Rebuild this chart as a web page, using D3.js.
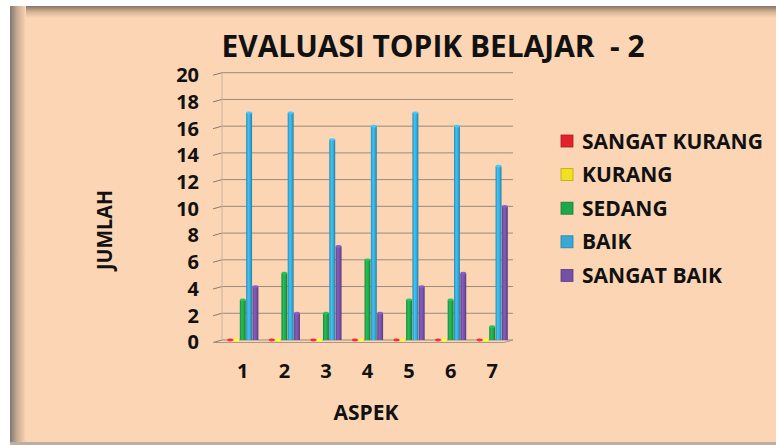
<!DOCTYPE html>
<html>
<head>
<meta charset="utf-8">
<script src="https://cdn.jsdelivr.net/npm/d3@7"></script>
<style>
  html, body { margin: 0; padding: 0; background: #fff; }
  svg { display: block; }
  text { font-family: "Liberation Sans Narrow", "Open Sans", sans-serif; font-weight: bold; fill: #111; }
</style>
</head>
<body>
<svg id="chart" width="776" height="445"></svg>
<script>
const aspek = ['1', '2', '3', '4', '5', '6', '7'];
const seriesNames = ['SANGAT KURANG', 'KURANG', 'SEDANG', 'BAIK', 'SANGAT BAIK'];
const sangatKurang = [0, 0, 0, 0, 0, 0, 0];
const kurang = [0, 0, 0, 0, 0, 0, 0];
const sedang = [3, 5, 2, 6, 3, 3, 1];
const baik = [17, 17, 15, 16, 17, 16, 13];
const sangatBaik = [4, 2, 7, 2, 4, 5, 10];
const yTicks = [0, 2, 4, 6, 8, 10, 12, 14, 16, 18, 20];
const colors = ['#e3232b', '#f2e21e', '#1ea64a', '#36a9d6', '#7450a6'];

const seriesValues = [sangatKurang, kurang, sedang, baik, sangatBaik];

const svg = d3.select('#chart');
const defs = svg.append('defs');

// panel background with shaded top / left edges
const peach = '#fcd5b4';
const lg = defs.append('linearGradient').attr('id', 'leftShade').attr('x1', 0).attr('x2', 1).attr('y1', 0).attr('y2', 0);
lg.append('stop').attr('offset', '0%').attr('stop-color', '#7d7772');
lg.append('stop').attr('offset', '45%').attr('stop-color', '#c9ab92');
lg.append('stop').attr('offset', '100%').attr('stop-color', peach);
const tg = defs.append('linearGradient').attr('id', 'topShade').attr('x1', 0).attr('x2', 0).attr('y1', 0).attr('y2', 1);
tg.append('stop').attr('offset', '0%').attr('stop-color', '#857565');
tg.append('stop').attr('offset', '50%').attr('stop-color', '#d6b597');
tg.append('stop').attr('offset', '100%').attr('stop-color', peach);

svg.append('rect').attr('x', 10).attr('y', 6).attr('width', 766).attr('height', 437).attr('fill', peach);
svg.append('rect').attr('x', 10).attr('y', 6).attr('width', 766).attr('height', 12).attr('fill', 'url(#topShade)');
svg.append('rect').attr('x', 10).attr('y', 6).attr('width', 16).attr('height', 437).attr('fill', 'url(#leftShade)');
svg.append('rect').attr('x', 10).attr('y', 442).attr('width', 766).attr('height', 3).attr('fill', '#b9afa6');

// cylinder gradients per series
colors.forEach((c, i) => {
  const g = defs.append('linearGradient').attr('id', 'cyl' + i).attr('x1', 0).attr('x2', 1).attr('y1', 0).attr('y2', 0);
  g.append('stop').attr('offset', '0%').attr('stop-color', d3.color(c).darker(0.6));
  g.append('stop').attr('offset', '35%').attr('stop-color', d3.color(c).brighter(0.4));
  g.append('stop').attr('offset', '70%').attr('stop-color', c);
  g.append('stop').attr('offset', '100%').attr('stop-color', d3.color(c).darker(0.9));
});

const plotLeft = 222, plotRight = 513, plotTop = 72.7, plotBottom = 340;

const y = d3.scaleLinear().domain([0, 20]).range([plotBottom, plotTop]);
const x0 = d3.scaleBand().domain(aspek).range([plotLeft, plotRight]).paddingInner(0.24).paddingOuter(0.12);
const x1 = d3.scaleBand().domain(d3.range(seriesNames.length)).range([0, x0.bandwidth()]);

// gridlines and slanted ticks
const grid = svg.append('g');
grid.selectAll('line.g').data(yTicks).enter().append('line')
  .attr('class', 'g')
  .attr('x1', plotLeft).attr('x2', plotRight)
  .attr('y1', d => y(d)).attr('y2', d => y(d))
  .attr('stroke', '#9a8a7d').attr('stroke-width', 1);
grid.selectAll('line.t').data(yTicks).enter().append('line')
  .attr('class', 't')
  .attr('x1', plotLeft - 9).attr('x2', plotLeft)
  .attr('y1', d => y(d) + 2.5).attr('y2', d => y(d))
  .attr('stroke', '#8a7a6d').attr('stroke-width', 1);
// back wall edge
svg.append('line').attr('x1', plotLeft).attr('x2', plotLeft).attr('y1', plotTop).attr('y2', plotBottom)
  .attr('stroke', '#c9b3a0').attr('stroke-width', 1);
// floor
svg.append('path')
  .attr('d', `M${plotLeft - 9},${plotBottom + 2.5}L${plotRight - 9},${plotBottom + 2.5}L${plotRight},${plotBottom}`)
  .attr('fill', 'none').attr('stroke', '#a89888').attr('stroke-width', 1);

// y axis labels
const yAxis = svg.append('g')
  .attr('transform', `translate(${plotLeft - 9},2.5)`)
  .call(d3.axisLeft(y).tickValues(yTicks).tickSize(0).tickPadding(14).tickFormat(d3.format('d')));
yAxis.select('.domain').remove();
yAxis.attr('font-family', null).attr('font-size', null);
yAxis.selectAll('text').style('font-size', '20px').attr('fill', '#111');

// x axis labels
const xAxis = svg.append('g')
  .attr('transform', `translate(0,${plotBottom})`)
  .call(d3.axisBottom(x0).tickSize(0).tickPadding(24));
xAxis.select('.domain').remove();
xAxis.attr('font-family', null).attr('font-size', null);
xAxis.selectAll('text').style('font-size', '20px').attr('fill', '#111');

// bars
const barW = x1.bandwidth();
const groups = svg.append('g').selectAll('g').data(aspek).enter().append('g')
  .attr('transform', d => `translate(${x0(d)},0)`);

seriesNames.forEach((name, si) => {
  const vals = seriesValues[si];
  groups.append('rect')
    .attr('x', x1(si) + 0.2)
    .attr('y', (d, i) => y(vals[i]))
    .attr('width', barW - 0.4)
    .attr('height', (d, i) => plotBottom - y(vals[i]))
    .attr('fill', 'url(#cyl' + si + ')');
  groups.append('ellipse')
    .attr('cx', x1(si) + barW / 2)
    .attr('cy', (d, i) => y(vals[i]))
    .attr('rx', barW / 2 - 0.2)
    .attr('ry', 1.4)
    .attr('fill', d3.color(colors[si]).brighter(0.5));
});

// title
svg.append('text')
  .attr('x', 433).attr('y', 57)
  .attr('text-anchor', 'middle')
  .attr('textLength', 423).attr('lengthAdjust', 'spacingAndGlyphs')
  .style('font-size', '30px')
  .style('white-space', 'pre')
  .text('EVALUASI TOPIK BELAJAR  - 2');

// axis titles
svg.append('text')
  .attr('transform', 'translate(112,230) rotate(-90)')
  .attr('text-anchor', 'middle')
  .attr('textLength', 80).attr('lengthAdjust', 'spacingAndGlyphs')
  .style('font-size', '21px')
  .text('JUMLAH');
svg.append('text')
  .attr('x', 366).attr('y', 420)
  .attr('text-anchor', 'middle')
  .style('font-size', '21px')
  .text('ASPEK');

// legend
const legend = svg.append('g').selectAll('g').data(seriesNames).enter().append('g')
  .attr('transform', (d, i) => `translate(561,${141 + i * 33.6})`);
legend.append('rect')
  .attr('x', 0).attr('y', -6).attr('width', 12).attr('height', 12)
  .attr('fill', (d, i) => colors[i])
  .attr('stroke', (d, i) => d3.color(colors[i]).darker(0.8)).attr('stroke-width', 0.8);
legend.append('text')
  .attr('x', 21).attr('y', 7.5)
  .style('font-size', '21px')
  .text(d => d);
</script>
</body>
</html>
